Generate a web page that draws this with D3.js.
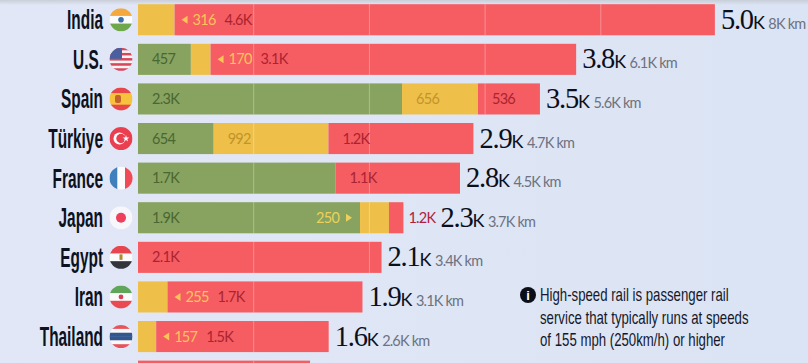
<!DOCTYPE html>
<html lang="en">
<head>
<meta charset="UTF-8">
<title>High-speed rail by country</title>
<script src="https://d3js.org/d3.v7.min.js"></script>
<style>
    html, body { margin: 0; padding: 0; overflow: hidden; background: #dfe6f6; }
    svg { display: block; }
    .name { font-family: "Liberation Sans", sans-serif; font-weight: bold; font-size: 28px; fill: #0d1220; text-anchor: end; }
    .seg { font-family: Lato, Roboto, sans-serif; font-weight: 400; font-size: 14.5px; letter-spacing: -0.7px; }
    .total { font-family: "Liberation Serif", serif; fill: #0b0f1c; font-size: 28.5px; letter-spacing: -1.2px; }
    .total .k { font-family: Lato, sans-serif; font-size: 18px; letter-spacing: -0.5px; }
    .total .km { font-family: Lato, sans-serif; font-weight: 400; font-size: 14.5px; fill: #6c7280; letter-spacing: -0.8px; }
    .note { font-family: "Liberation Sans", sans-serif; font-size: 17.5px; fill: #14182a; }
</style>
</head>
<body>
<svg id="chart" width="808" height="363"></svg>
<script>
// miles of high-speed rail
const categories = ["India", "U.S.", "Spain", "Türkiye", "France", "Japan", "Egypt", "Iran", "Thailand", ""];
const green  = [0, 457, 2282, 654, 1707, 1919, 0, 0, 0, 0];
const yellow = [316, 170, 656, 992, 0, 250, 0, 255, 157, 0];
const red    = [4670, 3160, 536, 1253, 1076, 125, 2105, 1685, 1491, 1487];
const greenLabels  = [null, "457", "2.3K", "654", "1.7K", "1.9K", null, null, null, null];
const yellowLabels = ["316", "170", "656", "992", null, "250", null, "255", "157", null];
const redLabels    = ["4.6K", "3.1K", "536", "1.2K", "1.1K", "1.2K", "2.1K", "1.7K", "1.5K", null];
const totalLabels  = ["5.0", "3.8", "3.5", "2.9", "2.8", "2.3", "2.1", "1.9", "1.6", null];
const kmLabels     = ["8K km", "6.1K km", "5.6K km", "4.7K km", "4.5K km", "3.7K km", "3.4K km", "3.1K km", "2.6K km", null];
const gridTicks = [1000, 2000, 3000, 4000];
const noteLines = ["High-speed rail is passenger rail", "service that typically runs at speeds", "of 155 mph (250km/h) or higher"];

const colors = {
    green: "#87a35f", greenText: "#4a6632",
    yellow: "#eec04a", yellowText: "#c2942a",
    red: "#f55d62", redText: "#ab2330", outText: "#b02040",
    pointerOnRed: "#f9c45a", pointerOnGreen: "#ecd05c"
};

const svg = d3.select("#chart");
const defs = svg.append("defs");

const bg = defs.append("linearGradient").attr("id", "bg");
bg.append("stop").attr("offset", 0).attr("stop-color", "#e2e7f7");
bg.append("stop").attr("offset", 1).attr("stop-color", "#dbe4f4");
svg.append("rect").attr("width", 808).attr("height", 363).attr("fill", "url(#bg)");

const topShade = defs.append("linearGradient").attr("id", "topShade").attr("x2", 0).attr("y2", 1);
topShade.append("stop").attr("offset", 0).attr("stop-color", "#c9ced8");
topShade.append("stop").attr("offset", 1).attr("stop-color", "#c9ced8").attr("stop-opacity", 0);
svg.append("rect").attr("width", 808).attr("height", 5).attr("fill", "url(#topShade)");

const x = d3.scaleLinear().domain([0, 5000]).range([138, 716.5]);
const y = d3.scaleBand().domain(d3.range(categories.length)).range([4.2, 391.7]).paddingInner(0.215).paddingOuter(0);

// flags are little clipped circles
const R = 11.5;
defs.append("clipPath").attr("id", "flagClip").append("circle").attr("r", R);

function stripes(g, cols) {
    const h = 2 * R / cols.length;
    cols.forEach((c, i) => g.append("rect").attr("x", -R).attr("y", -R + i * h).attr("width", 2 * R).attr("height", h + 0.3).attr("fill", c));
}
const flags = {
    "India": g => {
        stripes(g, ["#f5a93c", "#fbfbfb", "#6ea84a"]);
        g.append("circle").attr("r", 2.8).attr("fill", "#3d6ea8");
    },
    "U.S.": g => {
        stripes(g, d3.range(9).map(i => i % 2 ? "#fbf4f4" : "#d9485a"));
        g.append("rect").attr("x", -R).attr("y", -R).attr("width", R + 1).attr("height", 11).attr("fill", "#4a5f9e");
    },
    "Spain": g => {
        stripes(g, ["#e8464b", "#f7c23c", "#f7c23c", "#e8464b"]);
        g.append("rect").attr("x", -6).attr("y", -4).attr("width", 6).attr("height", 8).attr("rx", 2).attr("fill", "#c4622d");
    },
    "Türkiye": g => {
        stripes(g, ["#ea3f50"]);
        g.append("circle").attr("cx", -1.5).attr("r", 6).attr("fill", "#fff");
        g.append("circle").attr("cx", 0).attr("r", 4.7).attr("fill", "#ea3f50");
        g.append("path").attr("d", d3.symbol(d3.symbolStar, 14)).attr("transform", "translate(5,0)").attr("fill", "#fff");
    },
    "France": g => {
        g.append("rect").attr("x", -R).attr("y", -R).attr("width", 8).attr("height", 2 * R).attr("fill", "#3f7fbd");
        g.append("rect").attr("x", -3.5).attr("y", -R).attr("width", 7.5).attr("height", 2 * R).attr("fill", "#fbfbfb");
        g.append("rect").attr("x", 4).attr("y", -R).attr("width", 8).attr("height", 2 * R).attr("fill", "#ef4a55");
    },
    "Japan": g => {
        stripes(g, ["#f6f6fb"]);
        g.append("circle").attr("r", 5).attr("fill", "#ee3f5c");
    },
    "Egypt": g => {
        stripes(g, ["#e8464f", "#fbfbfb", "#33343c"]);
        g.append("rect").attr("x", -1.5).attr("y", -3).attr("width", 3).attr("height", 5.5).attr("fill", "#b08a2e");
    },
    "Iran": g => {
        stripes(g, ["#5fa65a", "#fbfbfb", "#ea4a52"]);
        g.append("circle").attr("r", 2.4).attr("fill", "#d9405a");
    },
    "Thailand": g => {
        stripes(g, ["#e8525a", "#f8f8f8", "#33568f", "#33568f", "#f8f8f8", "#e8525a"]);
    }
};

const rows = svg.selectAll("g.row")
    .data(categories)
    .join("g")
    .attr("class", "row")
    .attr("transform", (d, i) => `translate(0,${y(i)})`);

rows.each(function(name, i) {
    const row = d3.select(this);
    const h = y.bandwidth();
    const mid = h / 2;
    const x0 = x(0), x1 = x(green[i]), x2 = x(green[i] + yellow[i]), x3 = x(green[i] + yellow[i] + red[i]);

    row.append("rect").attr("x", x0).attr("width", x1 - x0).attr("height", h).attr("fill", colors.green);
    row.append("rect").attr("x", x1).attr("width", x2 - x1).attr("height", h).attr("fill", colors.yellow);
    row.append("rect").attr("x", x2).attr("width", x3 - x2).attr("height", h).attr("fill", colors.red);

    // thousand mile lines only show inside the bars
    gridTicks.filter(t => x(t) < x3).forEach(t => {
        row.append("line").attr("x1", x(t)).attr("x2", x(t)).attr("y1", 0).attr("y2", h)
            .attr("stroke", "#fff").attr("stroke-opacity", 0.3);
    });

    if (!name) return;

    // no narrow font on the box, so squeeze the bold one
    row.append("text").attr("class", "name")
        .attr("transform", `translate(103,${mid + 9.5}) scale(0.55,1)`)
        .text(name);

    const flag = row.append("g").attr("transform", `translate(121,${mid})`);
    flags[name](flag.append("g").attr("clip-path", "url(#flagClip)"));

    const label = (txt, px, col) => row.append("text").attr("class", "seg")
        .attr("x", px).attr("y", mid + 5).attr("fill", col).text(txt);
    const arrow = (px, dir, col) => row.append("path")
        .attr("d", dir < 0 ? "M0,0L6,-4L6,4Z" : "M6,0L0,-4L0,4Z")
        .attr("transform", `translate(${px},${mid})`).attr("fill", col);

    if (greenLabels[i]) label(greenLabels[i], x0 + 14, colors.greenText);

    const redWide = x3 - x2 > 40;
    const pointer = yellowLabels[i] && x2 - x1 < 40;
    if (yellowLabels[i]) {
        if (!pointer) {
            label(yellowLabels[i], x1 + 14, colors.yellowText);
        } else if (redWide) {
            arrow(x2 + 7, -1, colors.pointerOnRed);
            label(yellowLabels[i], x2 + 18, colors.pointerOnRed);
        } else {
            label(yellowLabels[i], x1 - 44, colors.pointerOnGreen);
            arrow(x1 - 14, 1, colors.pointerOnGreen);
        }
    }

    let totalX = x3 + 6;
    if (redLabels[i]) {
        if (!redWide) {
            label(redLabels[i], x3 + 5, colors.outText);
            totalX = x3 + 37;
        } else {
            label(redLabels[i], x2 + (pointer ? 50 : 14), colors.redText);
        }
    }

    const total = row.append("text").attr("class", "total").attr("x", totalX).attr("y", mid + 9);
    total.append("tspan").text(totalLabels[i]);
    total.append("tspan").attr("class", "k").text("K");
    total.append("tspan").attr("class", "km").attr("dx", 4).text(kmLabels[i]);
});

const note = svg.append("g");
note.append("circle").attr("cx", 528).attr("cy", 295).attr("r", 8).attr("fill", "#0d0f18");
note.append("text").attr("x", 528).attr("y", 300).attr("text-anchor", "middle")
    .attr("font-family", "Liberation Sans").attr("font-weight", "bold").attr("font-size", 13).attr("fill", "#fff").text("i");
note.selectAll("text.note").data(noteLines).join("text").attr("class", "note")
    .attr("transform", (d, i) => `translate(540,${301 + i * 22.5}) scale(0.755,1)`).text(d => d);
</script>
</body>
</html>
